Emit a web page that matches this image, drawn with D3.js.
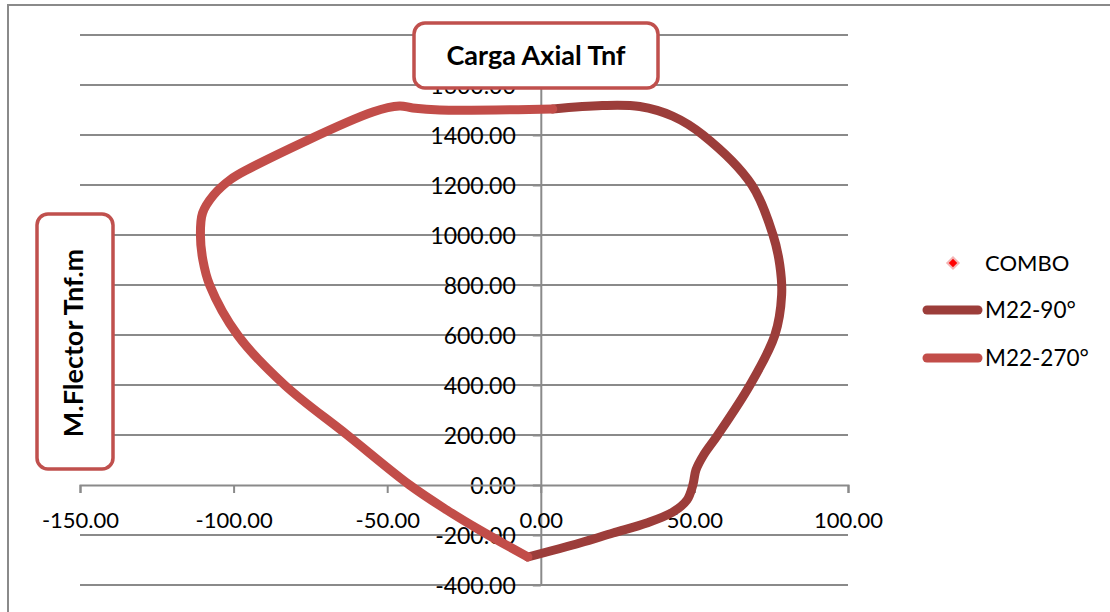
<!DOCTYPE html>
<meta charset="utf-8">
<style>
body { margin: 0; background: #fff; }
text { font-family: Lato, "Open Sans", sans-serif; fill: #000; }
.grid line { stroke: #8a8a8a; stroke-width: 2px; }
.axis path, .axis line { stroke: #8a8a8a; stroke-width: 2px; }
.curve { fill: none; stroke-width: 9px; stroke-linecap: round; stroke-linejoin: round; }
.titlebox { fill: #fff; stroke: #c0504d; stroke-width: 3.5px; }
</style>
<body>
<script src="https://d3js.org/d3.v7.min.js"></script>
<script>
var width = 1110, height = 612;

// tick values
var xTicks = [-150, -100, -50, 0, 50, 100];
var yTicks = [-400, -200, 0, 200, 400, 600, 800, 1000, 1200, 1400, 1600, 1800];

// series: [M, P]
var combo = [];
var m22_90 = [
  [-4.2, -288], [12.7, -232], [23.5, -192], [34.5, -152], [43, -108], [47.6, -60],
  [49.5, 0], [50.5, 60], [53, 120], [57.6, 200], [68.1, 400], [76.2, 600],
  [78.4, 760], [77.8, 880], [75.6, 1000], [68.7, 1200], [52.8, 1400],
  [43, 1475], [32.2, 1514], [20, 1518], [3.9, 1504]
];
var m22_270 = [
  [3.9, 1504], [-32.9, 1500], [-41.7, 1508], [-46, 1516], [-54.7, 1492],
  [-95.8, 1260], [-101, 1222], [-106.5, 1160], [-110.1, 1088], [-110.8, 1000],
  [-110, 900], [-107.8, 800], [-98.7, 600], [-83.4, 400], [-63, 200], [-42.7, 0],
  [-30.6, -100], [-19.9, -180], [-4.2, -288]
];

var x = d3.scaleLinear().domain([-150, 100]).range([80, 848]);
var y = d3.scaleLinear().domain([-400, 1800]).range([585, 35]);

var svg = d3.select("body").append("svg")
    .attr("width", width)
    .attr("height", height);

// outer chart border
svg.append("rect")
    .attr("x", 8).attr("y", 5)
    .attr("width", width + 20).attr("height", height + 20)
    .attr("fill", "none")
    .attr("stroke", "#8a8a8a")
    .attr("stroke-width", 2);

// horizontal gridlines
svg.append("g").attr("class", "grid")
  .selectAll("line")
  .data(yTicks.filter(function(d) { return d !== 0; }))
  .enter().append("line")
    .attr("x1", x(-150)).attr("x2", x(100))
    .attr("y1", function(d) { return y(d); })
    .attr("y2", function(d) { return y(d); });

var fmt = function(d) { return d.toFixed(2); };

// x axis through P = 0
var gx = svg.append("g").attr("class", "axis")
    .attr("transform", "translate(0," + y(0) + ")")
    .call(d3.axisBottom(x).tickValues(xTicks).tickFormat(fmt).tickSize(8).tickSizeOuter(8));
gx.selectAll("text")
    .attr("y", 43).attr("dy", null)
    .style("font-size", "22px");

// y axis through M = 0
var gy = svg.append("g").attr("class", "axis")
    .attr("transform", "translate(" + x(0) + ",0)")
    .call(d3.axisLeft(y).tickValues(yTicks).tickFormat(fmt).tickSize(8).tickSizeOuter(0));
gy.selectAll("text")
    .attr("x", -25).attr("dy", "0.36em")
    .style("font-size", "23px");
gx.raise();
gx.select(".domain").raise();

var line = d3.line()
    .x(function(d) { return x(d[0]); })
    .y(function(d) { return y(d[1]); })
    .curve(d3.curveCatmullRom.alpha(0.5));

svg.append("path").datum(m22_90)
    .attr("class", "curve")
    .attr("stroke", "#9c3d3a")
    .attr("d", line);

svg.append("path").datum(m22_270)
    .attr("class", "curve")
    .attr("stroke", "#c24d49")
    .attr("d", line);

svg.selectAll(".combo").data(combo)
  .enter().append("path")
    .attr("class", "combo")
    .attr("transform", function(d) { return "translate(" + x(d[0]) + "," + y(d[1]) + ") rotate(45)"; })
    .attr("d", d3.symbol(d3.symbolSquare, 64))
    .attr("fill", "#ff0000");

// chart title box
svg.append("rect").attr("class", "titlebox")
    .attr("x", 414).attr("y", 23).attr("width", 244).attr("height", 65)
    .attr("rx", 11);
svg.append("text")
    .attr("x", 536).attr("y", 65)
    .attr("text-anchor", "middle")
    .style("font-size", "27px").style("font-weight", "bold")
    .text("Carga Axial Tnf");

// vertical title box
svg.append("rect").attr("class", "titlebox")
    .attr("x", 37).attr("y", 214).attr("width", 76).attr("height", 255)
    .attr("rx", 11);
svg.append("text")
    .attr("transform", "translate(83,343) rotate(-90)")
    .attr("text-anchor", "middle")
    .style("font-size", "27px").style("font-weight", "bold")
    .text("M.Flector Tnf.m");

// legend
var legend = svg.append("g").attr("transform", "translate(923,0)");
legend.append("path")
    .attr("transform", "translate(30,263) rotate(45)")
    .attr("d", d3.symbol(d3.symbolSquare, 64))
    .attr("fill", "#ff0000")
    .attr("stroke", "#f4b4b4")
    .attr("stroke-width", 2);
legend.append("text").attr("x", 62).attr("y", 263).attr("dy", "0.36em")
    .style("font-size", "22px").text("COMBO");

[["M22-90°", "#9c3d3a", 310], ["M22-270°", "#c24d49", 358]].forEach(function(s) {
  legend.append("line")
      .attr("x1", 4).attr("x2", 55)
      .attr("y1", s[2]).attr("y2", s[2])
      .attr("stroke", s[1]).attr("stroke-width", 9)
      .attr("stroke-linecap", "round");
  legend.append("text").attr("x", 62).attr("y", s[2]).attr("dy", "0.36em")
      .style("font-size", "22.5px").text(s[0]);
});
</script>
